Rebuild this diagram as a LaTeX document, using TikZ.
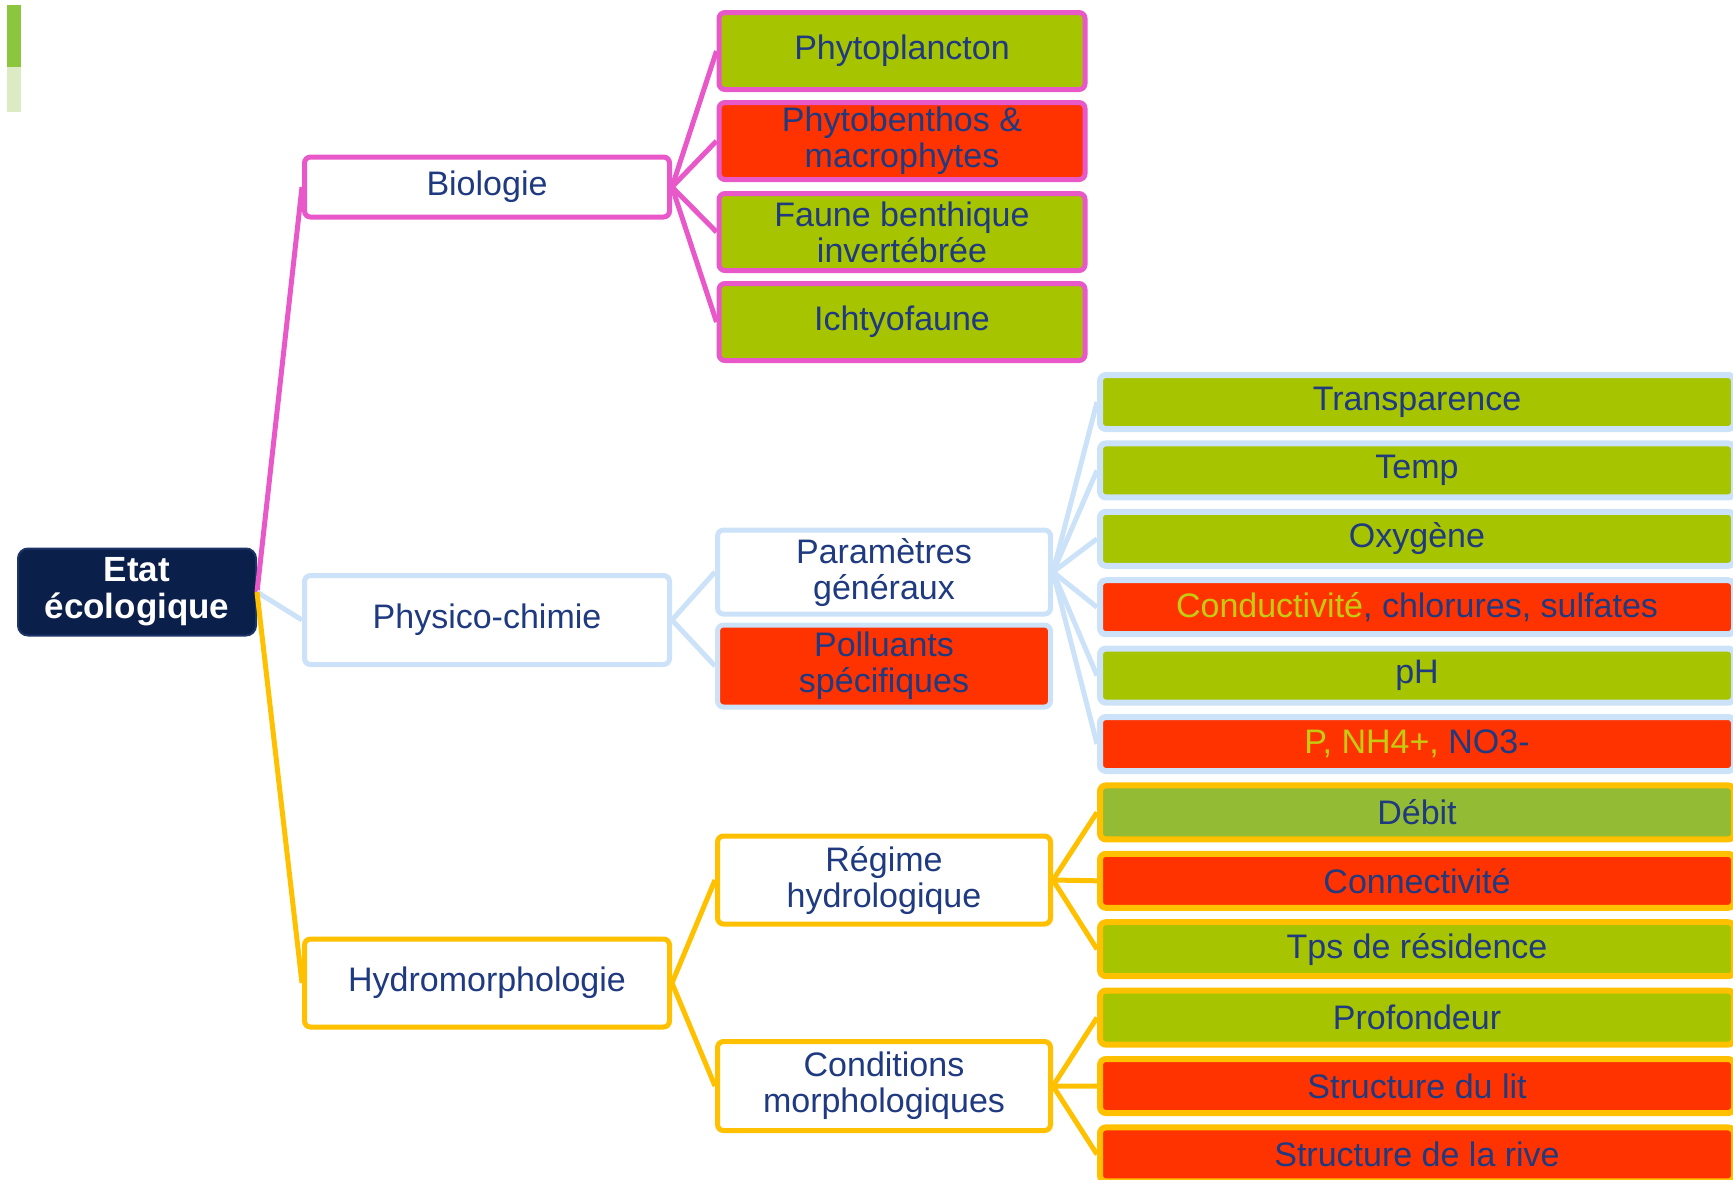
\documentclass[tikz,border=0pt]{standalone}
\usepackage{fontspec}
\setmainfont{Liberation Sans}

\definecolor{navy}{HTML}{0B1F4B}
\definecolor{navyedge}{HTML}{1C3468}
\definecolor{txtblue}{HTML}{1F3A80}
\definecolor{pinkline}{HTML}{E858C8}
\definecolor{blueline}{HTML}{CCE2F8}
\definecolor{orangeline}{HTML}{FFC000}
\definecolor{grn}{HTML}{A6C400}
\definecolor{dgrn}{HTML}{93BB33}
\definecolor{rd}{HTML}{FF3300}
\definecolor{ylw}{HTML}{C3CC0F}
\definecolor{bardark}{HTML}{8CC63F}
\definecolor{barlight}{HTML}{DDEBC5}

\begin{document}
\begin{tikzpicture}[x=1pt,y=-1pt,line width=5pt]
    \tikzstyle{box}=[rectangle,rounded corners=6pt,line width=5pt,text=txtblue,align=center,inner sep=0pt,font=\fontsize{34}{36}\selectfont]
    \tikzstyle{root}=[box,fill=navy,draw=navyedge,line width=2pt,rounded corners=10pt,text=white,font=\bfseries\fontsize{35}{37}\selectfont,minimum width=238pt,minimum height=87pt]
    \tikzstyle{main}=[box,fill=white,minimum width=365pt]
    \tikzstyle{sub}=[box,minimum width=333pt]
    \tikzstyle{leaf}=[box,draw=pinkline,minimum width=366pt,minimum height=77pt]
    \tikzstyle{param}=[box,line width=6pt,minimum width=634pt,minimum height=54pt]
    \useasboundingbox (0,0) rectangle (1733,1179);

    % green bar, top left
    \fill[bardark] (7,5) rectangle (21,67);
    \fill[barlight] (7,67) rectangle (21,112);

    \node[root] (E) at (137,592) {Etat\\écologique};

    \node[main,draw=pinkline,minimum height=60pt] (N-1) at (487,187) {Biologie};
    \node[main,draw=blueline,minimum height=89pt] (N-2) at (487,620) {Physico-chimie};
    \node[main,draw=orangeline,minimum height=88pt] (N-3) at (487,983) {Hydromorphologie};

    \foreach \num/\y/\c/\t in {1/51/grn/Phytoplancton, 2/141/rd/{Phytobenthos \&\\macrophytes},
                               3/232/grn/{Faune benthique\\invertébrée}, 4/322/grn/Ichtyofaune}
            \node[leaf,fill=\c] (B-\num) at (902,\y) {\t};

    \node[sub,draw=blueline,fill=white,minimum height=84pt] (S-1) at (884,572) {Paramètres\\généraux};
    \node[sub,draw=blueline,fill=rd,minimum height=82pt] (S-2) at (884,666) {Polluants\\spécifiques};
    \node[sub,draw=orangeline,fill=white,minimum height=88pt] (S-3) at (884,880) {Régime\\hydrologique};
    \node[sub,draw=orangeline,fill=white,minimum height=89pt] (S-4) at (884,1086) {Conditions\\morphologiques};

    \foreach \num/\c/\t in {1/grn/Transparence, 2/grn/Temp, 3/grn/Oxygène,
                            4/rd/{{\color{ylw}Conductivité}, chlorures, sulfates},
                            5/grn/pH, 6/rd/{{\color{ylw}P, NH4+,} NO3-}}
            \node[param,draw=blueline,fill=\c] (P-\num) at (1417,{402+68.4*(\num-1)}) {\t};
    \foreach \num/\c/\t in {7/dgrn/Débit, 8/rd/Connectivité, 9/grn/Tps de résidence,
                            10/grn/Profondeur, 11/rd/Structure du lit, 12/rd/Structure de la rive}
            \node[param,draw=orangeline,fill=\c] (P-\num) at (1417,{402+68.4*(\num-1)}) {\t};

    \draw[pinkline] (E.east) -- (N-1.west);
    \draw[blueline] (E.east) -- (N-2.west);
    \draw[orangeline] (E.east) -- (N-3.west);

        \foreach \num in {1,...,4}
            \draw[pinkline] (N-1.east) -- (B-\num.west);
        \foreach \to in {1,2}
            \draw[blueline] (N-2.east) -- (S-\to.west);
        \foreach \to in {3,4}
            \draw[orangeline] (N-3.east) -- (S-\to.west);

        \foreach \num in {1,...,6}
            \draw[blueline] (S-1.east) -- (P-\num.west);
        \foreach \num in {7,8,9}
            \draw[orangeline] (S-3.east) -- (P-\num.west);
        \foreach \num in {10,11,12}
            \draw[orangeline] (S-4.east) -- (P-\num.west);
\end{tikzpicture}
\end{document}
